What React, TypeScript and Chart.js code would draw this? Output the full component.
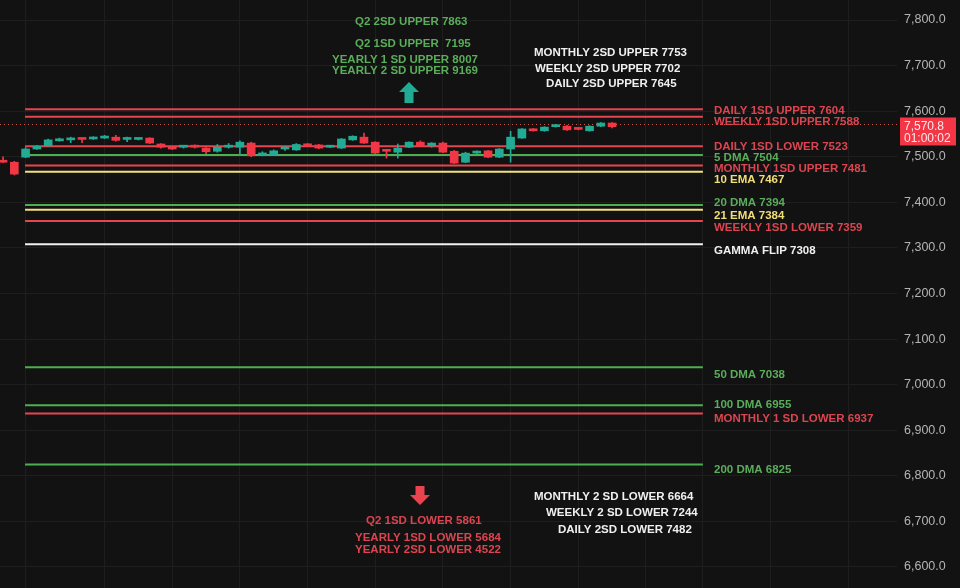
import React, { useEffect, useRef } from "react";
import { Chart, registerables } from "chart.js";

Chart.register(...registerables);

// ---------- DATA ----------
const opens = [7489, 7488, 7499, 7517, 7524, 7535, 7537, 7539, 7539, 7541, 7543, 7538, 7538, 7541, 7528, 7518, 7521, 7522, 7519, 7512, 7521, 7521, 7530, 7504, 7504, 7517, 7515, 7528, 7526, 7521, 7519, 7537, 7543, 7532, 7513, 7510, 7521, 7532, 7524, 7530, 7512, 7488, 7508, 7513, 7499, 7517, 7541, 7561, 7557, 7566, 7567, 7561, 7557, 7567, 7574];
const highs = [7500, 7490, 7520, 7525, 7539, 7541, 7543, 7540, 7544, 7547, 7547, 7543, 7540, 7542, 7529, 7519, 7523, 7526, 7520, 7527, 7529, 7535, 7532, 7511, 7515, 7523, 7529, 7529, 7527, 7523, 7540, 7546, 7552, 7533, 7514, 7528, 7533, 7535, 7531, 7532, 7514, 7510, 7513, 7514, 7518, 7556, 7562, 7562, 7566, 7571, 7569, 7562, 7568, 7575, 7575];
const lows = [7487, 7460, 7498, 7516, 7523, 7534, 7531, 7531, 7538, 7540, 7534, 7533, 7537, 7529, 7519, 7516, 7519, 7519, 7507, 7510, 7519, 7504, 7500, 7502, 7503, 7514, 7514, 7523, 7518, 7520, 7518, 7536, 7529, 7507, 7497, 7497, 7520, 7523, 7521, 7509, 7485, 7487, 7507, 7498, 7498, 7488, 7540, 7556, 7556, 7565, 7558, 7559, 7556, 7566, 7563];
const closes = [7488, 7462, 7517, 7523, 7537, 7539, 7538, 7538, 7543, 7542, 7536, 7539, 7539, 7530, 7521, 7517, 7522, 7521, 7511, 7521, 7525, 7532, 7502, 7508, 7513, 7518, 7527, 7524, 7519, 7522, 7539, 7545, 7530, 7508, 7512, 7519, 7532, 7524, 7530, 7510, 7486, 7508, 7512, 7499, 7517, 7543, 7561, 7557, 7565, 7567, 7559, 7560, 7567, 7574, 7566];

const levelNames = ["DAILY 1SD UPPER", "WEEKLY 1SD UPPER", "DAILY 1SD LOWER", "5 DMA", "MONTHLY 1SD UPPER", "10 EMA", "20 DMA", "21 EMA", "WEEKLY 1SD LOWER", "GAMMA FLIP", "50 DMA", "100 DMA", "MONTHLY 1 SD LOWER", "200 DMA"];
const levelValues = [7604, 7588, 7523, 7504, 7481, 7467, 7394, 7384, 7359, 7308, 7038, 6955, 6937, 6825];
const levelKinds = ["red", "red", "red", "green", "red", "yellow", "green", "yellow", "red", "white", "green", "green", "red", "green"];

const levelFrom = 1.95; // candle index where level lines begin
const levelTo = 62.05; // candle index where level lines end

const yTicks = [7800, 7700, 7600, 7500, 7400, 7300, 7200, 7100, 7000, 6900, 6800, 6700, 6600];
const xGridTicks = [2, 9, 15, 21, 27, 33, 39, 45, 51, 57, 62, 68, 75];

const lastPrice = 7570.8;
const countdown = "01:00:02";

const upperGreenNotes = ["Q2 2SD UPPER 7863", "Q2 1SD UPPER  7195", "YEARLY 1 SD UPPER 8007", "YEARLY 2 SD UPPER 9169"];
const upperWhiteNotes = ["MONTHLY 2SD UPPER 7753", "WEEKLY 2SD UPPER 7702", "DAILY 2SD UPPER 7645"];
const lowerRedNotes = ["Q2 1SD LOWER 5861", "YEARLY 1SD LOWER 5684", "YEARLY 2SD LOWER 4522"];
const lowerWhiteNotes = ["MONTHLY 2 SD LOWER 6664", "WEEKLY 2 SD LOWER 7244", "DAILY 2SD LOWER 7482"];

// ---------- STYLE / LAYOUT ----------
const BG = "#121212";
const GRID = "#1e1e1e";
const UP = "#22ab94";
const DOWN = "#f23645";
const FONT = "'Liberation Sans', Arial, sans-serif";
const LINE_COLORS: Record<string, string> = {
  red: "#e5454f",
  green: "#4caf50",
  yellow: "#f3e07c",
  white: "#f2f2f2",
};
const TEXT_COLORS: Record<string, string> = {
  red: "#dc4550",
  green: "#5aad5a",
  yellow: "#f0de78",
  white: "#f0f0f0",
};
const labelX = 714;
const labelYs = [111, 122, 147, 158, 169, 180, 203, 216, 228, 251, 375, 405, 419, 470];
const upperGreenPos = [[355, 22], [355, 44], [332, 60], [332, 71]];
const upperWhitePos = [[534, 53], [535, 69], [546, 84]];
const lowerRedPos = [[366, 521], [355, 538], [355, 550]];
const lowerWhitePos = [[534, 497], [546, 513], [558, 530]];

const fmt = (v: number) =>
  v.toLocaleString("en-US", { minimumFractionDigits: 1, maximumFractionDigits: 1 });

const annotationPlugin = {
  id: "annotations",
  afterDraw(chart: any) {
    const ctx = chart.ctx as CanvasRenderingContext2D;
    const y = chart.scales.y;
    ctx.save();
    ctx.textBaseline = "middle";
    ctx.textAlign = "left";
    ctx.font = `bold 11.5px ${FONT}`;

    levelNames.forEach((n, i) => {
      ctx.fillStyle = TEXT_COLORS[levelKinds[i]];
      ctx.fillText(`${n} ${levelValues[i]}`, labelX, labelYs[i]);
    });
    const drawGroup = (texts: string[], pos: number[][], color: string) => {
      ctx.fillStyle = color;
      texts.forEach((t, i) => ctx.fillText(t, pos[i][0], pos[i][1]));
    };
    drawGroup(upperGreenNotes, upperGreenPos, TEXT_COLORS.green);
    drawGroup(upperWhiteNotes, upperWhitePos, TEXT_COLORS.white);
    drawGroup(lowerRedNotes, lowerRedPos, TEXT_COLORS.red);
    drawGroup(lowerWhiteNotes, lowerWhitePos, TEXT_COLORS.white);

    // up arrow
    ctx.fillStyle = UP;
    ctx.beginPath();
    ctx.moveTo(409, 82);
    ctx.lineTo(419, 92);
    ctx.lineTo(413.5, 92);
    ctx.lineTo(413.5, 103);
    ctx.lineTo(404.5, 103);
    ctx.lineTo(404.5, 92);
    ctx.lineTo(399, 92);
    ctx.closePath();
    ctx.fill();
    // down arrow
    ctx.fillStyle = "#e8434e";
    ctx.beginPath();
    ctx.moveTo(415.5, 486);
    ctx.lineTo(424.5, 486);
    ctx.lineTo(424.5, 495);
    ctx.lineTo(430, 495);
    ctx.lineTo(420, 505);
    ctx.lineTo(410, 495);
    ctx.lineTo(415.5, 495);
    ctx.closePath();
    ctx.fill();

    // last price box
    const py = y.getPixelForValue(lastPrice);
    ctx.fillStyle = DOWN;
    ctx.fillRect(900, py - 7, 56, 28);
    ctx.fillStyle = "#ffe9ec";
    ctx.font = `12px ${FONT}`;
    ctx.fillText(fmt(lastPrice), 904, py + 2);
    ctx.fillText(countdown, 904, py + 14);
    ctx.restore();
  },
};

export default function App() {
  const ref = useRef<HTMLCanvasElement | null>(null);

  useEffect(() => {
    if (!ref.current) return;
    Chart.defaults.font.family = FONT;
    const colors = closes.map((c, i) => (c >= opens[i] ? UP : DOWN));

    const levelSets = levelValues.map((v, i) => ({
      type: "line" as const,
      data: [
        { x: levelFrom, y: v },
        { x: levelTo, y: v },
      ],
      borderColor: LINE_COLORS[levelKinds[i]],
      borderWidth: 2,
      pointRadius: 0,
      order: 3,
    }));

    const chart = new Chart(ref.current, {
      type: "bar",
      data: {
        datasets: [
          {
            type: "bar",
            data: closes.map((c, i) => ({ x: i, y: [lows[i], highs[i]] })) as any,
            backgroundColor: colors,
            barThickness: 1,
            grouped: false,
            order: 1,
          } as any,
          {
            type: "bar",
            data: closes.map((c, i) => ({ x: i, y: [opens[i], c] })) as any,
            backgroundColor: colors,
            barThickness: 8,
            minBarLength: 2,
            grouped: false,
            order: 0,
          } as any,
          ...levelSets,
          {
            type: "line",
            data: [
              { x: -0.27, y: lastPrice },
              { x: 79.26, y: lastPrice },
            ],
            borderColor: "#d8584a",
            borderWidth: 1,
            borderDash: [1, 3],
            pointRadius: 0,
            order: 4,
          } as any,
        ],
      },
      options: {
        animation: false,
        responsive: true,
        maintainAspectRatio: false,
        layout: { padding: 0 },
        plugins: { legend: { display: false }, tooltip: { enabled: false } },
        scales: {
          x: {
            type: "linear",
            min: -0.27,
            max: 79.26,
            offset: false,
            afterBuildTicks: (s: any) => {
              s.ticks = xGridTicks.map((v) => ({ value: v }));
            },
            ticks: { display: false },
            grid: { color: GRID, drawTicks: false, offset: false },
            border: { display: false },
          },
          y: {
            type: "linear",
            position: "right",
            min: 6553.9,
            max: 7843.9,
            afterBuildTicks: (s: any) => {
              s.ticks = yTicks.map((v) => ({ value: v }));
            },
            afterFit: (s: any) => {
              s.width = 63;
              s.paddingTop = 0;
              s.paddingBottom = 0;
            },
            grid: { color: GRID, drawTicks: false },
            border: { display: false },
            ticks: {
              color: "#b4b4b4",
              font: { size: 12.5, family: FONT },
              padding: 7,
              autoSkip: false,
              callback: (v: any) => fmt(Number(v)),
            },
          },
        },
      } as any,
      plugins: [annotationPlugin],
    });
    return () => chart.destroy();
  }, []);

  return (
    <div
      style={{
        position: "fixed",
        left: 0,
        top: 0,
        width: 960,
        height: 588,
        background: BG,
      }}
    >
      <canvas ref={ref} />
    </div>
  );
}
